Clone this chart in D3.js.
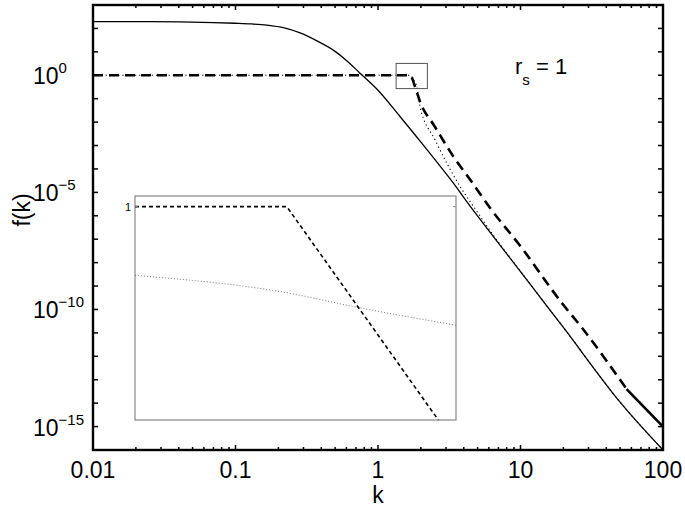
<!DOCTYPE html>
<html><head><meta charset="utf-8">
<script src="https://cdn.jsdelivr.net/npm/d3@7"></script>
<style>body{margin:0;background:#fff}svg{display:block}</style></head>
<body><svg id="c" width="685" height="510"></svg>
<script>
// ---- data ----
const xTicks = [0.01, 0.1, 1, 10, 100];
const xTickLabels = ["0.01", "0.1", "1", "10", "100"];
const yLabelExps = [0, -5, -10, -15];
const solidK = [0.01, 0.02, 0.04, 0.07, 0.1, 0.13, 0.166, 0.22, 0.284, 0.37, 0.483, 0.6, 0.748, 1.0, 1.426, 2.0, 3.36, 4.43, 10, 14.1, 20.5, 50, 100];
const solidF = [195, 195, 190, 178, 166, 155, 138, 105, 64, 30, 12.1, 4.3, 1.23, 0.23, 0.0174, 1.4e-3, 2.6e-5, 2.6e-6, 4.1e-9, 2.7e-10, 1.4e-11, 1.1e-14, 1.0e-16];
const dashK = [0.01, 1.68, 1.82, 1.97, 2.51, 3.36, 4.43, 6.1, 10, 19.5, 26.9, 55.5];
const dashF = [1, 1, 0.32, 0.076, 6.3e-3, 3.6e-4, 3.5e-5, 2.2e-6, 5e-8, 1.9e-10, 1.7e-11, 4e-14];
const dashTailK = [55.5, 100];
const dashTailF = [4e-14, 1e-15];
const dotK = [0.01, 1.68, 1.78, 1.87, 1.97, 2.51, 3.76, 4.8, 6.3, 10, 14.1, 20.5, 50, 100];
const dotF = [1, 1, 0.63, 0.33, 0.047, 1.8e-3, 1.8e-5, 2e-6, 1.8e-7, 4.3e-9, 2.7e-10, 1.4e-11, 1.1e-14, 1.0e-16];
const zoomBoxK = [1.34, 2.22];
const zoomBoxF = [3.2, 0.27];
// inset (own linear axes)
const insetDashX = [0, 0.473, 0.945];
const insetDashY = [1, 1, 0];
const insetDotX = [0, 0.474, 0.68, 1];
const insetDotY = [0.678, 0.596, 0.532, 0.444];
const insetYTick = [1];

// ---- layout ----
const svg = d3.select("#c");
const L = 93, R = 663, T = 5, B = 450;
const x = d3.scaleLog().domain([0.01, 100]).range([L, R]);
const y = d3.scaleLog().domain([1e-16, 1e3]).range([B, T]);
const font = "'Liberation Sans', Arial, Helvetica, sans-serif";

const zip = (a, b) => a.map((v, i) => [v, b[i]]);
const lineM = d3.line().x(d => x(d[0])).y(d => y(d[1])).curve(d3.curveMonotoneX);
const lineC = d3.line().x(d => x(d[0])).y(d => y(d[1])).curve(d3.curveCatmullRom.alpha(0.5));

// curves
svg.append("path").attr("d", lineC(zip(solidK, solidF)))
  .attr("fill", "none").attr("stroke", "#000").attr("stroke-width", 1.3);
svg.append("path").attr("d", lineM(zip(dotK, dotF)))
  .attr("fill", "none").attr("stroke", "#000").attr("stroke-width", 1.1)
  .attr("stroke-dasharray", "1.2,3");
svg.append("path").attr("d", lineM(zip(dashK, dashF)))
  .attr("fill", "none").attr("stroke", "#000").attr("stroke-width", 2.6)
  .attr("stroke-dasharray", "10,6");
svg.append("path").attr("d", d3.line().x(d => x(d[0])).y(d => y(d[1]))(zip(dashTailK, dashTailF)))
  .attr("fill", "none").attr("stroke", "#000").attr("stroke-width", 2.6);

// zoom box
svg.append("rect")
  .attr("x", x(zoomBoxK[0])).attr("y", y(zoomBoxF[0]))
  .attr("width", x(zoomBoxK[1]) - x(zoomBoxK[0]))
  .attr("height", y(zoomBoxF[1]) - y(zoomBoxF[0]))
  .attr("fill", "none").attr("stroke", "#555").attr("stroke-width", 1);

// ticks (inward, all four sides)
const g = svg.append("g").attr("stroke", "#000").attr("stroke-width", 1.5);
const xMinor = [];
for (let e = -2; e < 2; e++) for (let m = 1; m < 10; m++) xMinor.push(m * Math.pow(10, e));
xMinor.push(100);
xMinor.forEach(v => {
  const len = xTicks.includes(+v.toPrecision(6)) ? 5 : 3;
  const px = x(v);
  g.append("line").attr("x1", px).attr("x2", px).attr("y1", B).attr("y2", B - len);
  g.append("line").attr("x1", px).attr("x2", px).attr("y1", T).attr("y2", T + len);
});
for (let e = -16; e <= 3; e++) {
  const py = y(Math.pow(10, e));
  g.append("line").attr("x1", L).attr("x2", L + 5).attr("y1", py).attr("y2", py);
  g.append("line").attr("x1", R).attr("x2", R - 5).attr("y1", py).attr("y2", py);
}

// frame
svg.append("rect").attr("x", L).attr("y", T).attr("width", R - L).attr("height", B - T)
  .attr("fill", "none").attr("stroke", "#000").attr("stroke-width", 2.4);

// x tick labels
xTicks.forEach((v, i) => {
  svg.append("text").attr("x", x(v)).attr("y", 478).attr("text-anchor", "middle")
    .attr("font-family", font).attr("font-size", 23).text(xTickLabels[i]);
});
// y tick labels
yLabelExps.forEach(e => {
  const t = svg.append("text").attr("x", 33).attr("y", y(Math.pow(10, e)) + 9)
    .attr("font-family", font).attr("font-size", 23);
  t.append("tspan").text("10");
  t.append("tspan").attr("dy", -11).attr("font-size", 15).text(e === 0 ? "0" : "\u2212" + (-e));
});
// axis titles
svg.append("text").attr("x", 378).attr("y", 503).attr("text-anchor", "middle")
  .attr("font-family", font).attr("font-size", 23).text("k");
svg.append("text").attr("transform", "translate(30,210) rotate(-90)").attr("text-anchor", "middle")
  .attr("font-family", font).attr("font-size", 23).text("f(k)");
// annotation r_s = 1
const an = svg.append("text").attr("x", 515).attr("y", 74).attr("font-family", font).attr("font-size", 22);
an.append("tspan").text("r");
an.append("tspan").attr("dy", 11).attr("font-size", 15).text("s");
an.append("tspan").attr("dy", -11).text(" = 1");

// ---- inset ----
const IL = 135, IR = 456, IT = 196, IB = 420;
const ix = d3.scaleLinear().domain([0, 1]).range([IL, IR]);
const iy = d3.scaleLinear().domain([0, 1.05]).range([IB, IT]);
svg.append("rect").attr("x", IL).attr("y", IT).attr("width", IR - IL).attr("height", IB - IT)
  .attr("fill", "#fff").attr("stroke", "#888").attr("stroke-width", 1.2);
const iline = d3.line().x(d => ix(d[0])).y(d => iy(d[1]));
svg.append("path")
  .attr("d", d3.line().x(d => ix(d[0])).y(d => iy(d[1])).curve(d3.curveMonotoneX)(zip(insetDotX, insetDotY)))
  .attr("fill", "none").attr("stroke", "#777").attr("stroke-width", 1).attr("stroke-dasharray", "1,2");
svg.append("path").attr("d", iline(zip(insetDashX, insetDashY)))
  .attr("fill", "none").attr("stroke", "#000").attr("stroke-width", 1.6).attr("stroke-dasharray", "4,3");
insetYTick.forEach(v => {
  svg.append("line").attr("x1", IL).attr("x2", IL + 3).attr("y1", iy(v)).attr("y2", iy(v)).attr("stroke", "#888");
  svg.append("line").attr("x1", IR).attr("x2", IR - 3).attr("y1", iy(v)).attr("y2", iy(v)).attr("stroke", "#888");
  svg.append("text").attr("x", IL - 4).attr("y", iy(v) + 4).attr("text-anchor", "end")
    .attr("font-family", font).attr("font-size", 11).text(String(v));
});
</script></body></html>
